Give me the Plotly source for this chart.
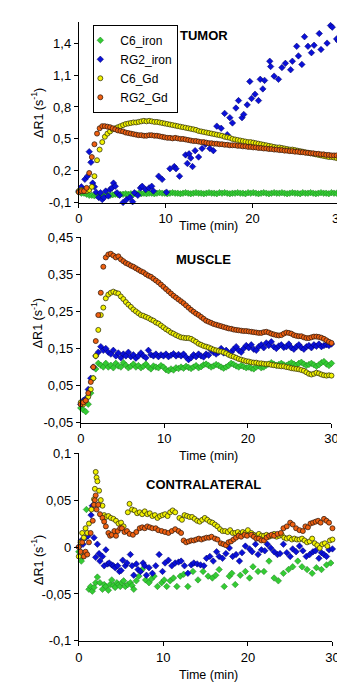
import plotly.graph_objects as go

# ---------------- data ----------------
T_GRID = [0.0, 0.3, 0.6, 0.9, 1.2, 1.5, 1.8, 2.1, 2.4, 2.7,
          3.0, 3.3, 3.6, 3.9, 4.2, 4.5, 4.8, 5.1, 5.4, 5.7,
          6.0, 6.3, 6.6, 6.9, 7.2, 7.5, 7.8, 8.1, 8.4, 8.7,
          9.0, 9.3, 9.6, 9.9, 10.2, 10.5, 10.8, 11.1, 11.4, 11.7,
          12.0, 12.3, 12.6, 12.9, 13.2, 13.5, 13.8, 14.1, 14.4, 14.7,
          15.0, 15.3, 15.6, 15.9, 16.2, 16.5, 16.8, 17.1, 17.4, 17.7,
          18.0, 18.3, 18.6, 18.9, 19.2, 19.5, 19.8, 20.1, 20.4, 20.7,
          21.0, 21.3, 21.6, 21.9, 22.2, 22.5, 22.8, 23.1, 23.4, 23.7,
          24.0, 24.3, 24.6, 24.9, 25.2, 25.5, 25.8, 26.1, 26.4, 26.7,
          27.0, 27.3, 27.6, 27.9, 28.2, 28.5, 28.8, 29.1, 29.4, 29.7,
          30.0]

# TUMOR
TUM_C6_GD = [0.01, 0.02, 0.01, 0.01, 0.02, 0.05, 0.15, 0.30, 0.40, 0.47,
             0.52, 0.55, 0.57, 0.59, 0.60, 0.61, 0.62, 0.63, 0.64, 0.645,
             0.65, 0.655, 0.655, 0.66, 0.665, 0.67, 0.665, 0.67, 0.665, 0.66,
             0.66, 0.655, 0.65, 0.645, 0.64, 0.635, 0.63, 0.625, 0.62, 0.615,
             0.61, 0.605, 0.60, 0.595, 0.59, 0.585, 0.575, 0.57, 0.565, 0.56,
             0.555, 0.55, 0.545, 0.54, 0.535, 0.53, 0.52, 0.515, 0.51, 0.50,
             0.495, 0.49, 0.485, 0.48, 0.475, 0.47, 0.47, 0.465, 0.46, 0.455,
             0.45, 0.445, 0.44, 0.435, 0.43, 0.425, 0.42, 0.42, 0.415, 0.41,
             0.405, 0.40, 0.40, 0.395, 0.39, 0.385, 0.38, 0.375, 0.37, 0.365,
             0.36, 0.355, 0.35, 0.345, 0.34, 0.335, 0.33, 0.33, 0.325, 0.32,
             0.31]
TUM_RG2_GD = [0.00, 0.01, 0.01, 0.04, 0.18, 0.33, 0.45, 0.55, 0.60, 0.62,
              0.62, 0.615, 0.61, 0.60, 0.59, 0.58, 0.575, 0.57, 0.56, 0.555,
              0.55, 0.545, 0.54, 0.535, 0.535, 0.53, 0.53, 0.535, 0.535, 0.53,
              0.53, 0.525, 0.52, 0.515, 0.51, 0.51, 0.505, 0.51, 0.505, 0.50,
              0.50, 0.495, 0.49, 0.485, 0.48, 0.48, 0.475, 0.47, 0.47, 0.465,
              0.46, 0.46, 0.455, 0.455, 0.45, 0.45, 0.445, 0.445, 0.44, 0.44,
              0.44, 0.435, 0.435, 0.43, 0.43, 0.425, 0.425, 0.42, 0.42, 0.415,
              0.415, 0.41, 0.41, 0.405, 0.405, 0.40, 0.40, 0.395, 0.395, 0.39,
              0.39, 0.385, 0.385, 0.38, 0.38, 0.375, 0.375, 0.37, 0.37, 0.365,
              0.365, 0.36, 0.36, 0.355, 0.355, 0.35, 0.35, 0.345, 0.345, 0.345,
              0.34]
TUM_C6_IRON = [0.00, -0.01, -0.01, -0.02, -0.03, -0.03, -0.035, -0.03, -0.035, -0.03,
               -0.03, -0.025, -0.03, -0.025, -0.02, -0.025, -0.02, -0.02, -0.015, -0.02,
               -0.015, -0.02, -0.015, -0.01, -0.015, -0.01, -0.015, -0.01, -0.01, -0.015,
               -0.01, -0.005, -0.01, -0.01, -0.015, -0.01, -0.005, -0.01, -0.01, -0.015,
               -0.01, -0.005, -0.01, -0.015, -0.01, -0.005, -0.01, -0.01, -0.015, -0.01,
               -0.005, -0.01, -0.01, -0.015, -0.005, -0.01, -0.005, -0.01, -0.015, -0.01,
               -0.01, -0.005, -0.01, -0.01, -0.015, -0.005, -0.01, -0.005, -0.01, -0.015,
               -0.01, -0.005, -0.01, -0.015, -0.01, -0.005, -0.01, -0.01, -0.005, -0.01,
               -0.015, -0.01, -0.005, -0.01, -0.01, -0.015, -0.005, -0.01, -0.01, -0.005,
               -0.01, -0.015, -0.01, -0.005, -0.01, -0.01, -0.015, -0.005, -0.01, -0.01,
               -0.005]
TUM_RG2_IRON_T = [0.0, 0.3, 0.5, 0.7, 1.0, 1.2, 1.4, 1.6, 1.8, 2.0, 2.3, 2.5, 2.7, 2.9,
                  3.1, 3.4, 3.6, 3.8, 4.0, 4.2, 4.4, 4.7, 5.1, 5.5, 5.9, 6.2, 6.4, 6.8,
                  7.1, 7.3, 7.7, 8.1, 8.4, 8.6, 9.2, 9.6, 10.1, 10.5, 11.0, 11.2, 11.6,
                  12.3, 12.5, 12.7, 12.9, 13.1, 13.4, 13.8, 14.2, 14.6, 15.1, 15.5,
                  15.9, 16.4, 16.8, 17.1, 17.4, 17.7, 18.1, 18.4, 18.8, 19.0, 19.4,
                  19.7, 19.9, 20.3, 20.7, 20.9, 21.2, 21.4, 22.0, 22.1, 22.5, 23.0,
                  23.4, 23.8, 24.4, 24.6, 25.1, 25.3, 25.7, 26.0, 26.4, 26.8, 27.1,
                  27.7, 27.9, 28.6, 29.0, 29.2, 29.7, 29.9]
TUM_RG2_IRON_V = [0.01, 0.05, 0.02, 0.12, 0.15, 0.38, 0.28, 0.085, 0.05, 0.0, -0.05, -0.006, -0.07, -0.05,
                  0.01, -0.036, 0.025, 0.04, 0.085, 0.055, -0.006, -0.03, -0.097, -0.07, -0.05, -0.09, -0.006, -0.03,
                  0.04, 0.055, 0.025, 0.04, 0.055, 0.01, 0.15, 0.12, 0.0, 0.22, 0.24, 0.22, 0.15,
                  0.35, 0.27, 0.36, 0.32, 0.24, 0.39, 0.33, 0.41, 0.45, 0.41, 0.39,
                  0.62, 0.60, 0.74, 0.54, 0.70, 0.65, 0.79, 0.86, 0.70, 0.73, 0.82,
                  1.04, 0.88, 0.92, 0.86, 1.06, 0.97, 1.05, 1.23, 1.18, 1.09, 1.06,
                  1.17, 1.21, 1.15, 1.23, 1.37, 1.28, 1.20, 1.46, 1.37, 1.31, 1.38,
                  1.49, 1.34, 1.40, 1.565, 1.55, 1.44, 1.42]

# MUSCLE
MUS_C6_GD = [0.005, 0.0, 0.01, 0.02, 0.04, 0.07, 0.13, 0.20, 0.24, 0.26,
             0.285, 0.295, 0.30, 0.303, 0.30, 0.298, 0.29, 0.283, 0.275, 0.268,
             0.262, 0.255, 0.25, 0.245, 0.24, 0.238, 0.235, 0.232, 0.228, 0.225,
             0.22, 0.217, 0.212, 0.207, 0.202, 0.198, 0.193, 0.19, 0.186, 0.183,
             0.18, 0.179, 0.178, 0.178, 0.176, 0.172, 0.168, 0.163, 0.16, 0.157,
             0.155, 0.153, 0.15, 0.147, 0.145, 0.143, 0.142, 0.14, 0.137, 0.133,
             0.13, 0.128, 0.125, 0.122, 0.12, 0.118, 0.116, 0.115, 0.113, 0.112,
             0.112, 0.11, 0.11, 0.109, 0.108, 0.108, 0.106, 0.105, 0.104, 0.103,
             0.102, 0.102, 0.10, 0.099, 0.097, 0.096, 0.095, 0.094, 0.092, 0.09,
             0.086, 0.082, 0.08, 0.082, 0.085, 0.083, 0.08, 0.078, 0.077, 0.078,
             0.077]
MUS_RG2_GD = [0.0, 0.005, 0.01, 0.03, 0.06, 0.10, 0.17, 0.24, 0.30, 0.37,
              0.395, 0.403, 0.405, 0.40, 0.395, 0.398, 0.39, 0.385, 0.38, 0.377,
              0.373, 0.37, 0.366, 0.362, 0.358, 0.355, 0.35, 0.346, 0.343, 0.338,
              0.333, 0.328, 0.322, 0.316, 0.31, 0.304, 0.298, 0.292, 0.287, 0.282,
              0.277, 0.272, 0.266, 0.26, 0.254, 0.249, 0.244, 0.24, 0.235, 0.23,
              0.225, 0.222, 0.219, 0.216, 0.214, 0.212, 0.21, 0.208, 0.206, 0.204,
              0.203, 0.201, 0.2, 0.199, 0.198, 0.197, 0.197, 0.196, 0.195, 0.194,
              0.193, 0.192, 0.192, 0.194, 0.195, 0.193, 0.19, 0.188, 0.186, 0.185,
              0.186, 0.19, 0.193, 0.192, 0.19, 0.186, 0.184, 0.183, 0.183, 0.18,
              0.178, 0.178, 0.18, 0.182, 0.182, 0.181, 0.179, 0.176, 0.172, 0.168,
              0.165]
MUS_C6_IRON = [-0.01, -0.015, -0.02, 0.0, 0.03, 0.07, 0.095, 0.11, 0.105, 0.10,
               0.11, 0.10, 0.105, 0.098, 0.11, 0.103, 0.10, 0.112, 0.105, 0.098,
               0.102, 0.108, 0.10, 0.104, 0.098, 0.102, 0.108, 0.10, 0.095, 0.103,
               0.10, 0.098, 0.104, 0.10, 0.093, 0.09, 0.095, 0.092, 0.098, 0.096,
               0.10, 0.097, 0.102, 0.099, 0.096, 0.10, 0.104, 0.098, 0.101, 0.106,
               0.108, 0.104, 0.10, 0.103, 0.107, 0.104, 0.10, 0.097, 0.10, 0.104,
               0.11, 0.107, 0.103, 0.10, 0.104, 0.101, 0.098, 0.10, 0.097, 0.095,
               0.10, 0.103, 0.098, 0.10, 0.105, 0.108, 0.112, 0.108, 0.105, 0.107,
               0.11, 0.106, 0.104, 0.108, 0.112, 0.108, 0.105, 0.11, 0.113, 0.108,
               0.104, 0.107, 0.11, 0.106, 0.102, 0.106, 0.112, 0.115, 0.108, 0.104,
               0.11]
MUS_RG2_IRON = [0.0, 0.01, 0.015, 0.04, 0.07, 0.10, 0.13, 0.14, 0.155, 0.145,
                0.15, 0.14, 0.135, 0.145, 0.13, 0.138, 0.125, 0.135, 0.13, 0.14,
                0.128, 0.133, 0.124, 0.13, 0.138, 0.13, 0.125, 0.145, 0.133, 0.13,
                0.135, 0.128, 0.133, 0.13, 0.135, 0.128, 0.132, 0.136, 0.13, 0.134,
                0.13, 0.135, 0.127, 0.12, 0.125, 0.133, 0.128, 0.135, 0.13, 0.127,
                0.135, 0.132, 0.145, 0.14, 0.135, 0.14, 0.15, 0.138, 0.145, 0.135,
                0.14, 0.148, 0.155, 0.145, 0.14, 0.15, 0.158, 0.152, 0.16, 0.148,
                0.145, 0.155, 0.16, 0.152, 0.165, 0.158, 0.168, 0.155, 0.15, 0.157,
                0.16, 0.153, 0.155, 0.162, 0.152, 0.148, 0.155, 0.16, 0.152, 0.148,
                0.155, 0.158, 0.152, 0.16, 0.156, 0.162, 0.155, 0.158, 0.16, 0.158,
                0.162]

# CONTRALATERAL
CON_C6_GD_T = [0.0, 0.2, 0.4, 0.6, 0.8, 1.0, 1.2, 1.5, 1.8, 1.9, 2.0, 2.1, 2.2, 2.4, 2.6, 2.8,
               3.0, 3.2, 3.5, 3.8, 4.1, 4.4, 4.7, 5.0, 5.3, 5.8, 6.0, 6.3, 6.6, 6.9, 7.2, 7.5,
               7.8, 8.1, 8.4, 8.7, 9.0, 9.3, 9.6, 9.9, 10.2, 10.5, 10.8, 11.1, 11.4, 11.9,
               12.2, 12.5, 12.8, 13.1, 13.4, 13.7, 14.0, 14.3, 14.6, 14.9, 15.2, 15.5, 15.8,
               16.1, 16.4, 16.7, 17.0, 17.3, 17.6, 17.9, 18.2, 18.5, 18.8, 19.1, 19.4, 19.7,
               20.0, 20.4, 20.7, 21.0, 21.3, 21.6, 21.9, 22.2, 22.5, 22.8, 23.1, 23.4, 23.7,
               24.0, 24.3, 24.6, 24.9, 25.2, 25.5, 25.8, 26.1, 26.4, 26.7, 27.0, 27.3, 27.6,
               27.9, 28.2, 28.5, 28.8, 29.1, 29.4, 29.7, 30.0]
CON_C6_GD_V = [-0.01, 0.005, 0.015, 0.01, 0.02, 0.015, 0.025, 0.04, 0.051, 0.062, 0.08, 0.074, 0.07, 0.06, 0.05, 0.044,
               0.034, 0.032, 0.033, 0.031, 0.03, 0.028, 0.025, 0.026, 0.022, 0.037, 0.046, 0.04, 0.039, 0.036, 0.037, 0.035,
               0.038, 0.035, 0.036, 0.033, 0.034, 0.031, 0.033, 0.034, 0.035, 0.033, 0.037, 0.039, 0.037, 0.031,
               0.029, 0.034, 0.033, 0.032, 0.032, 0.03, 0.028, 0.027, 0.029, 0.031, 0.029, 0.027, 0.026,
               0.024, 0.022, 0.019, 0.017, 0.017, 0.016, 0.018, 0.015, 0.015, 0.016, 0.014, 0.016, 0.015,
               0.018, 0.015, 0.013, 0.012, 0.014, 0.012, 0.012, 0.013, 0.011, 0.012, 0.014, 0.011, 0.012,
               0.013, 0.01, 0.009, 0.01, 0.008, 0.009, 0.008, 0.008, 0.009, 0.007, 0.005, 0.006, 0.009,
               0.004, 0.002, -0.001, 0.003, 0.004, 0.001, 0.007, 0.008]
CON_RG2_GD_T = [0.0, 0.2, 0.4, 0.6, 0.8, 1.0, 1.2, 1.4, 1.65, 1.8, 1.9, 2.0, 2.1, 2.3, 2.5, 2.8,
                3.0, 3.2, 3.5, 3.7, 3.9, 4.2, 4.4, 4.6, 4.9, 5.1, 5.4, 5.7, 6.0, 6.4, 6.8, 7.2,
                7.5, 7.8, 8.1, 8.4, 8.7, 9.1, 9.4, 9.8, 10.2, 10.6, 11.0, 11.4, 11.8, 12.1,
                12.4, 12.7, 13.0, 13.3, 13.6, 13.9, 14.2, 14.5, 14.8, 15.1, 15.4, 15.7, 16.1,
                16.4, 16.8, 17.1, 17.4, 17.7, 18.0, 18.3, 18.6, 18.9, 19.2, 19.6, 19.9, 20.4,
                20.7, 21.0, 21.3, 21.6, 21.9, 22.2, 22.5, 22.8, 23.1, 23.5, 23.9, 24.2, 24.6,
                25.0, 25.3, 25.7, 26.1, 26.5, 26.8, 27.1, 27.4, 27.7, 28.0, 28.3, 28.6, 29.0,
                29.3, 29.6, 30.0]
CON_RG2_GD_V = [0.0, -0.005, 0.005, -0.01, -0.005, -0.008, 0.005, 0.015, 0.028, 0.045, 0.05, 0.055, 0.04, 0.045, 0.035, 0.031,
                0.027, 0.022, 0.015, 0.012, 0.013, 0.017, 0.012, 0.017, 0.02, 0.02, 0.016, 0.017, 0.014, 0.013, 0.016, 0.02,
                0.021, 0.02, 0.022, 0.021, 0.02, 0.02, 0.018, 0.017, 0.016, 0.015, 0.017, 0.019, 0.017, 0.015,
                0.007, 0.005, 0.006, 0.007, 0.007, 0.008, 0.009, 0.008, 0.009, 0.01, 0.01, 0.011, 0.009,
                0.008, 0.004, 0.003, 0.002, 0.005, 0.006, 0.008, 0.01, 0.012, 0.011, 0.013, 0.012, 0.013,
                0.011, 0.009, 0.009, 0.007, 0.007, 0.01, 0.012, 0.013, 0.012, 0.014, 0.015, 0.02, 0.022,
                0.026, 0.024, 0.02, 0.018, 0.017, 0.022, 0.021, 0.025, 0.026, 0.027, 0.028, 0.026, 0.03,
                0.028, 0.026, 0.02]
CON_RG2_IRON_T = [0.0, 0.3, 0.5, 0.8, 1.1, 1.45, 1.6, 1.8, 2.0, 2.2, 2.4, 2.5, 2.8, 3.0, 3.2, 3.4,
                  3.6, 3.9, 4.1, 4.3, 4.6, 4.8, 5.0, 5.2, 5.5, 5.7, 6.1, 6.3, 6.5, 6.8, 7.0, 7.3,
                  7.6, 7.8, 8.0, 8.3, 8.7, 9.1, 9.5, 9.9, 10.2, 10.6, 11.0, 11.4, 11.8, 12.1, 12.5,
                  12.9, 13.3, 13.6, 14.0, 14.4, 14.8, 15.1, 15.5, 15.9, 16.3, 16.6, 17.0, 17.4,
                  17.8, 18.2, 18.6, 19.0, 19.3, 19.7, 20.2, 20.5, 20.9, 21.2, 21.6, 22.0, 22.3,
                  22.7, 23.1, 23.5, 23.8, 24.2, 24.6, 25.0, 25.3, 25.7, 26.1, 26.5, 26.9, 27.3,
                  27.7, 28.0, 28.4, 28.7, 29.0, 29.3, 29.6, 30.0]
CON_RG2_IRON_V = [0.0, 0.007, 0.003, 0.01, 0.012, 0.034, 0.044, 0.01, -0.011, 0.003, -0.007, -0.015, -0.01, -0.02, -0.003, -0.018,
                  -0.017, -0.019, -0.02, -0.022, -0.02, -0.026, -0.025, -0.014, -0.02, -0.017, -0.008, -0.02, -0.03, -0.018, -0.024, -0.026,
                  -0.017, -0.02, -0.03, -0.022, -0.028, -0.02, -0.008, -0.026, -0.017, -0.014, -0.02, -0.017, -0.016, -0.015, -0.02,
                  -0.028, -0.019, -0.017, -0.018, -0.019, -0.02, -0.012, -0.01, -0.015, -0.005, -0.01, -0.012, -0.007,
                  -0.001, -0.01, -0.008, -0.015, -0.006, 0.001, -0.002, -0.005, 0.003, -0.008, -0.003, -0.004, 0.003,
                  -0.001, -0.005, -0.008, -0.007, 0.003, -0.006, -0.01, -0.002, -0.005, 0.001, -0.004, -0.01, -0.008,
                  -0.005, -0.004, -0.012, -0.006, -0.008, -0.01, -0.003, -0.002]
CON_C6_IRON_T = [0.0, 0.3, 0.5, 0.9, 1.2, 1.4, 1.6, 1.8, 2.0, 2.2, 2.5, 2.8, 3.0, 3.2, 3.5, 3.7,
                 3.9, 4.1, 4.3, 4.5, 4.7, 4.9, 5.1, 5.3, 5.5, 5.8, 6.1, 6.3, 6.5, 6.8, 7.1, 7.5,
                 7.9, 8.3, 8.6, 8.9, 9.3, 9.8, 10.1, 10.4, 10.8, 11.2, 11.6, 12.0, 12.4, 12.9,
                 13.5, 14.1, 14.7, 15.3, 15.8, 16.2, 16.6, 17.2, 17.8, 18.1, 18.5, 19.1, 19.7,
                 20.2, 20.6, 21.2, 21.9, 22.5, 23.1, 23.6, 24.2, 24.8, 25.3, 25.9, 26.4, 27.0,
                 27.6, 28.1, 28.7, 29.3, 29.8]
CON_C6_IRON_V = [-0.005, -0.015, -0.01, 0.04, -0.045, -0.042, -0.047, -0.043, -0.038, -0.032, -0.038, -0.045, -0.04, -0.042, -0.046, -0.04,
                 -0.035, -0.041, -0.043, -0.038, -0.04, -0.042, -0.038, -0.036, -0.042, -0.04, -0.038, -0.041, -0.045, -0.036, -0.031, -0.024,
                 -0.035, -0.038, -0.034, -0.031, -0.042, -0.038, -0.035, -0.042, -0.036, -0.033, -0.042, -0.031, -0.029, -0.042,
                 -0.026, -0.035, -0.026, -0.031, -0.033, -0.03, -0.024, -0.042, -0.031, -0.028, -0.04, -0.03, -0.026,
                 -0.033, -0.021, -0.026, -0.026, -0.015, -0.033, -0.036, -0.028, -0.024, -0.021, -0.015, -0.021, -0.024,
                 -0.028, -0.022, -0.024, -0.019, -0.017]

SERIES_NAMES = ["C6_iron", "RG2_iron", "C6_Gd", "RG2_Gd"]
PANEL_TITLES = ["TUMOR", "MUSCLE", "CONTRALATERAL"]
X_TICKS = [0, 10, 20, 30]
Y1_TICKS = [-0.1, 0.2, 0.5, 0.8, 1.1, 1.4]
Y1_LABELS = ["-0,1", "0,2", "0,5", "0,8", "1,1", "1,4"]
Y2_TICKS = [-0.05, 0.05, 0.15, 0.25, 0.35, 0.45]
Y2_LABELS = ["-0,05", "0,05", "0,15", "0,25", "0,35", "0,45"]
Y3_TICKS = [-0.1, -0.05, 0, 0.05, 0.1]
Y3_LABELS = ["-0,1", "-0,05", "0", "0,05", "0,1"]

# ---------------- styles ----------------
W, H = 345, 682
FONT = "Liberation Sans, Arial, sans-serif"
STYLES = {
    "C6_iron": dict(symbol="diamond", size=5, color="#33CC33", line=dict(color="#1E7A1E", width=0.5)),
    "RG2_iron": dict(symbol="diamond", size=5, color="#0A10D8", line=dict(color="#000060", width=0.5)),
    "C6_Gd": dict(symbol="circle", size=5, color="#F2F200", line=dict(color="#3A3A10", width=0.8)),
    "RG2_Gd": dict(symbol="circle", size=5, color="#F06010", line=dict(color="#3A2010", width=0.8)),
}

panels = [
    ("x", "y", [(T_GRID, TUM_C6_IRON), (TUM_RG2_IRON_T, TUM_RG2_IRON_V), (T_GRID, TUM_C6_GD), (T_GRID, TUM_RG2_GD)]),
    ("x2", "y2", [(T_GRID, MUS_C6_IRON), (T_GRID, MUS_RG2_IRON), (T_GRID, MUS_C6_GD), (T_GRID, MUS_RG2_GD)]),
    ("x3", "y3", [(CON_C6_IRON_T, CON_C6_IRON_V), (CON_RG2_IRON_T, CON_RG2_IRON_V),
                  (CON_C6_GD_T, CON_C6_GD_V), (CON_RG2_GD_T, CON_RG2_GD_V)]),
]

fig = go.Figure()
for pi, (xa, ya, series) in enumerate(panels):
    for name, (xs, ys) in zip(SERIES_NAMES, series):
        fig.add_trace(go.Scatter(
            x=xs, y=ys, mode="markers", name=name, xaxis=xa, yaxis=ya,
            legendgroup=name, showlegend=(pi == 0), cliponaxis=False,
            marker=STYLES[name],
        ))

def px_x(p):
    return p / W

def px_y(p):
    return 1 - p / H

axis_common = dict(showline=True, linecolor="black", linewidth=1, ticks="outside",
                   ticklen=4, tickcolor="black", showgrid=False, zeroline=False,
                   tickfont=dict(size=13, color="black", family=FONT))

fig.update_layout(
    width=W, height=H, margin=dict(l=0, r=0, t=0, b=0),
    paper_bgcolor="white", plot_bgcolor="white",
    font=dict(family=FONT, color="black"),
    xaxis=dict(domain=[px_x(69), px_x(338)], anchor="y", range=[0, 30], tickvals=X_TICKS, **axis_common),
    yaxis=dict(domain=[px_y(192), px_y(7)], anchor="x", range=[-0.1, 1.6],
               tickvals=Y1_TICKS, ticktext=Y1_LABELS, **axis_common),
    xaxis2=dict(domain=[px_x(71), px_x(330)], anchor="y2", range=[0, 30], tickvals=X_TICKS, **axis_common),
    yaxis2=dict(domain=[px_y(417), px_y(227)], anchor="x2", range=[-0.05, 0.45],
                tickvals=Y2_TICKS, ticktext=Y2_LABELS, **axis_common),
    xaxis3=dict(domain=[px_x(69), px_x(331)], anchor="y3", range=[0, 30], tickvals=X_TICKS, **axis_common),
    yaxis3=dict(domain=[px_y(640), px_y(448)], anchor="x3", range=[-0.1, 0.1],
                tickvals=Y3_TICKS, ticktext=Y3_LABELS, **axis_common),
    legend=dict(x=px_x(84), y=px_y(10), xanchor="left", yanchor="top",
                bordercolor="black", borderwidth=1, bgcolor="white",
                font=dict(size=12, family=FONT, color="black"),
                itemwidth=30, tracegroupgap=0, indentation=-14,
                itemsizing="trace"),
)

annots = []
for title, ypx in zip(PANEL_TITLES, [21, 250, 480]):
    annots.append(dict(text="<b>%s</b>" % title, x=px_x(198), y=px_y(ypx), xref="paper", yref="paper",
                       showarrow=False, xanchor="center", yanchor="middle",
                       font=dict(size=13, family=FONT, color="black")))
for ypx in [216, 451, 675]:
    annots.append(dict(text="Time (min)", x=px_x(203), y=px_y(ypx), xref="paper", yref="paper",
                       showarrow=False, xanchor="center", yanchor="middle",
                       font=dict(size=12.5, family=FONT, color="black")))
for ypx in [100, 315, 557]:
    annots.append(dict(text="ΔR1 (s<sup>-1</sup>)", x=px_x(26), y=px_y(ypx), xref="paper", yref="paper",
                       showarrow=False, xanchor="center", yanchor="middle", textangle=-90,
                       font=dict(size=12.5, family=FONT, color="black")))
fig.update_layout(annotations=annots)

fig.write_html("out.html")
